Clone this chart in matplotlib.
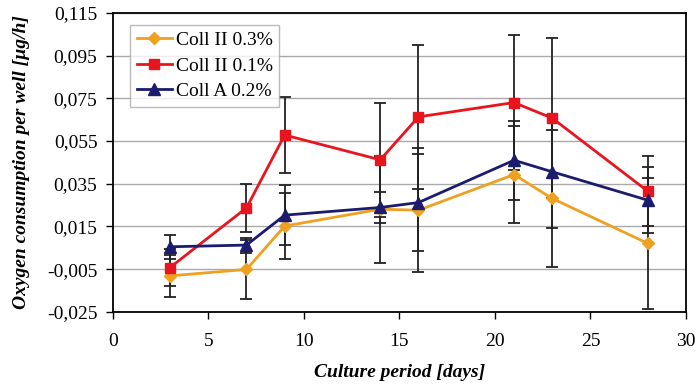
import matplotlib
matplotlib.use('Agg')
import matplotlib.pyplot as plt
from matplotlib.ticker import FuncFormatter

days = [3, 7, 9, 14, 16, 21, 23, 28]

coll2_03 = [-0.0081, -0.0051, 0.0152, 0.0231, 0.0226, 0.0393, 0.0281, 0.0071]
coll2_03_err = [0.0098, 0.0140, 0.0153, 0.0250, 0.0290, 0.0225, 0.0320, 0.0307]

coll2_01 = [-0.0042, 0.0237, 0.0578, 0.0462, 0.0663, 0.0730, 0.0657, 0.0315]
coll2_01_err = [0.0085, 0.0114, 0.0180, 0.0266, 0.0336, 0.0316, 0.0373, 0.0164]

collA_02 = [0.0055, 0.0063, 0.0203, 0.0239, 0.0262, 0.0460, 0.0406, 0.0273]
collA_02_err = [0.0055, 0.0035, 0.0141, 0.0073, 0.0225, 0.0185, 0.0265, 0.0155]

yticks = [-0.025, -0.005, 0.015, 0.035, 0.055, 0.075, 0.095, 0.115]
xticks = [0, 5, 10, 15, 20, 25, 30]

plt.rcParams['font.family'] = ['Liberation Serif', 'DejaVu Serif']

fig = plt.figure(figsize=(7, 3.88), dpi=100)
ax = fig.add_axes([0.161, 0.196, 0.819, 0.771])

series = [
    (coll2_03, coll2_03_err, '#f0a020', 'D', 6, 'Coll II 0.3%'),
    (coll2_01, coll2_01_err, '#e8141e', 's', 7, 'Coll II 0.1%'),
    (collA_02, collA_02_err, '#1c1c6e', '^', 8, 'Coll A 0.2%'),
]
for vals, err, col, mk, ms, lab in series:
    ax.errorbar(days, vals, yerr=err, fmt='none', ecolor='#222222',
                elinewidth=1.3, capsize=4, capthick=1.3, zorder=2)
for vals, err, col, mk, ms, lab in series:
    ax.plot(days, vals, color=col, marker=mk, markersize=ms, lw=2,
            label=lab, zorder=3)

ax.set_xlim(0, 30)
ax.set_ylim(-0.025, 0.115)
ax.set_xticks(xticks)
ax.set_yticks(yticks)
ax.yaxis.set_major_formatter(FuncFormatter(lambda v, p: ('%.3f' % v).replace('.', ',')))
ax.grid(axis='y', color='#aaaaaa', lw=1)
ax.set_axisbelow(True)
for s in ax.spines.values():
    s.set_linewidth(1.3)
ax.tick_params(labelsize=14, direction='out', length=5, width=1, pad=6)
ax.tick_params(axis='x', pad=10)

ax.set_xlabel('Culture period [days]', fontsize=14, fontweight='bold',
              fontstyle='italic', labelpad=10)
ax.set_ylabel('Oxygen consumption per well [\u00b5g/h]', fontsize=14,
              fontweight='bold', fontstyle='italic', labelpad=12)

leg = ax.legend(loc='upper left', bbox_to_anchor=(0.03, 0.96), borderaxespad=0,
                fontsize=14, frameon=True, fancybox=False, edgecolor='#aaaaaa',
                borderpad=0.35, labelspacing=0.4, handlelength=1.8,
                handletextpad=0.2)
leg.get_frame().set_linewidth(1)

fig.savefig('out.png', dpi=100)
